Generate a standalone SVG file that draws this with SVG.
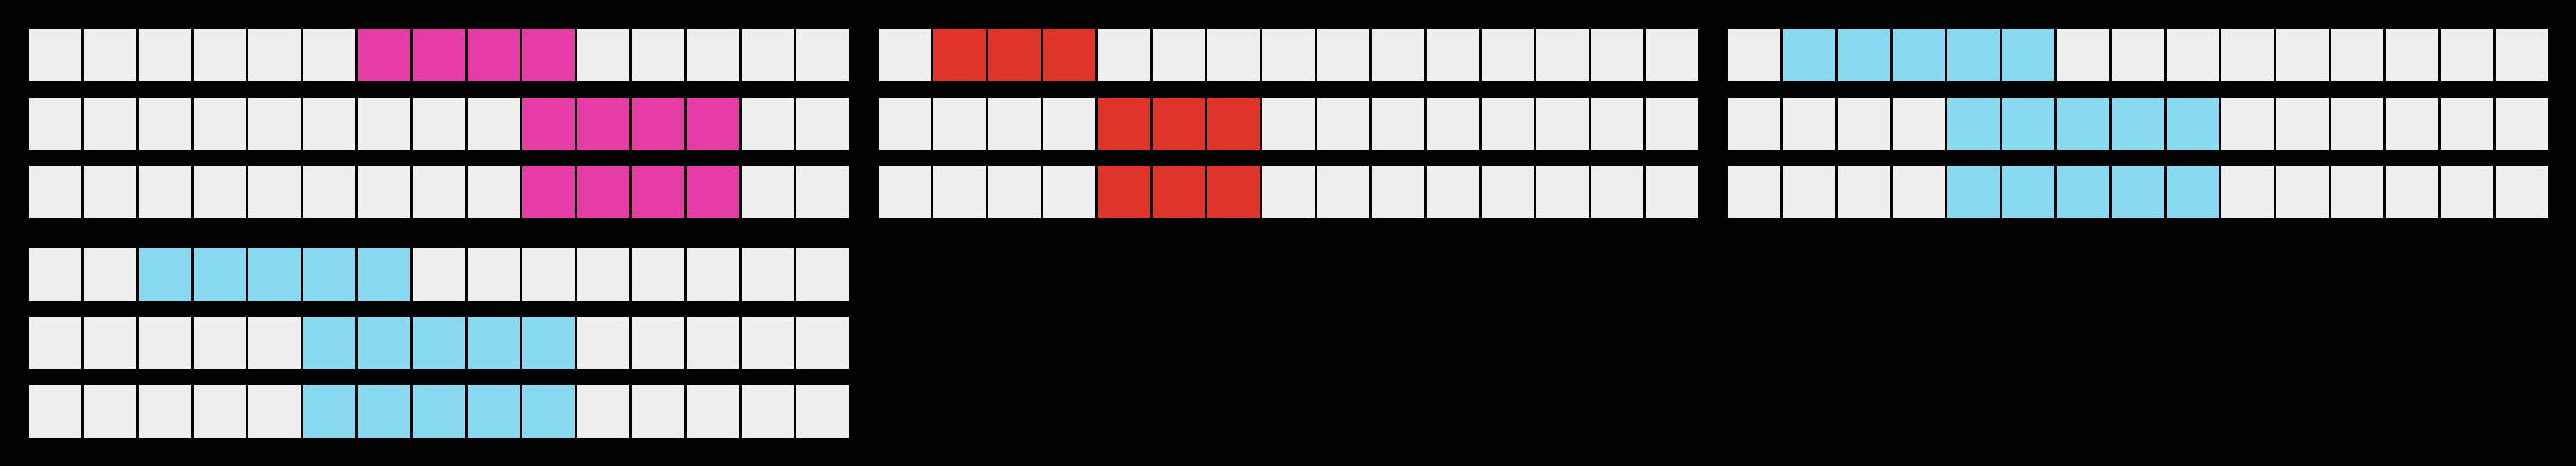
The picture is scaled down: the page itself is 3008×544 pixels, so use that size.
<svg xmlns="http://www.w3.org/2000/svg" width="3008" height="544" viewBox="0 0 3008 544">
<style>
rect.c{fill:#eeeeee}
rect.m{fill:#e53ca5}
rect.r{fill:#de3429}
rect.b{fill:#89d9f1}
</style>
<rect x="0" y="0" width="3008" height="544" fill="#020202"/>
<g id="grid1">
<g id="grid1-row1">
<rect class="c" x="34" y="34" width="61" height="61"/><rect class="c" x="98" y="34" width="61" height="61"/><rect class="c" x="162" y="34" width="61" height="61"/><rect class="c" x="226" y="34" width="61" height="61"/><rect class="c" x="290" y="34" width="61" height="61"/><rect class="c" x="354" y="34" width="61" height="61"/><rect class="m" x="418" y="34" width="61" height="61"/><rect class="m" x="482" y="34" width="61" height="61"/><rect class="m" x="546" y="34" width="61" height="61"/><rect class="m" x="610" y="34" width="61" height="61"/><rect class="c" x="674" y="34" width="61" height="61"/><rect class="c" x="738" y="34" width="61" height="61"/><rect class="c" x="802" y="34" width="61" height="61"/><rect class="c" x="866" y="34" width="61" height="61"/><rect class="c" x="930" y="34" width="61" height="61"/>
</g>
<g id="grid1-row2">
<rect class="c" x="34" y="114" width="61" height="61"/><rect class="c" x="98" y="114" width="61" height="61"/><rect class="c" x="162" y="114" width="61" height="61"/><rect class="c" x="226" y="114" width="61" height="61"/><rect class="c" x="290" y="114" width="61" height="61"/><rect class="c" x="354" y="114" width="61" height="61"/><rect class="c" x="418" y="114" width="61" height="61"/><rect class="c" x="482" y="114" width="61" height="61"/><rect class="c" x="546" y="114" width="61" height="61"/><rect class="m" x="610" y="114" width="61" height="61"/><rect class="m" x="674" y="114" width="61" height="61"/><rect class="m" x="738" y="114" width="61" height="61"/><rect class="m" x="802" y="114" width="61" height="61"/><rect class="c" x="866" y="114" width="61" height="61"/><rect class="c" x="930" y="114" width="61" height="61"/>
</g>
<g id="grid1-row3">
<rect class="c" x="34" y="194" width="61" height="61"/><rect class="c" x="98" y="194" width="61" height="61"/><rect class="c" x="162" y="194" width="61" height="61"/><rect class="c" x="226" y="194" width="61" height="61"/><rect class="c" x="290" y="194" width="61" height="61"/><rect class="c" x="354" y="194" width="61" height="61"/><rect class="c" x="418" y="194" width="61" height="61"/><rect class="c" x="482" y="194" width="61" height="61"/><rect class="c" x="546" y="194" width="61" height="61"/><rect class="m" x="610" y="194" width="61" height="61"/><rect class="m" x="674" y="194" width="61" height="61"/><rect class="m" x="738" y="194" width="61" height="61"/><rect class="m" x="802" y="194" width="61" height="61"/><rect class="c" x="866" y="194" width="61" height="61"/><rect class="c" x="930" y="194" width="61" height="61"/>
</g>
</g>
<g id="grid2">
<g id="grid2-row1">
<rect class="c" x="1026" y="34" width="61" height="61"/><rect class="r" x="1090" y="34" width="61" height="61"/><rect class="r" x="1154" y="34" width="61" height="61"/><rect class="r" x="1218" y="34" width="61" height="61"/><rect class="c" x="1282" y="34" width="61" height="61"/><rect class="c" x="1346" y="34" width="61" height="61"/><rect class="c" x="1410" y="34" width="61" height="61"/><rect class="c" x="1474" y="34" width="61" height="61"/><rect class="c" x="1538" y="34" width="61" height="61"/><rect class="c" x="1602" y="34" width="61" height="61"/><rect class="c" x="1666" y="34" width="61" height="61"/><rect class="c" x="1730" y="34" width="61" height="61"/><rect class="c" x="1794" y="34" width="61" height="61"/><rect class="c" x="1858" y="34" width="61" height="61"/><rect class="c" x="1922" y="34" width="61" height="61"/>
</g>
<g id="grid2-row2">
<rect class="c" x="1026" y="114" width="61" height="61"/><rect class="c" x="1090" y="114" width="61" height="61"/><rect class="c" x="1154" y="114" width="61" height="61"/><rect class="c" x="1218" y="114" width="61" height="61"/><rect class="r" x="1282" y="114" width="61" height="61"/><rect class="r" x="1346" y="114" width="61" height="61"/><rect class="r" x="1410" y="114" width="61" height="61"/><rect class="c" x="1474" y="114" width="61" height="61"/><rect class="c" x="1538" y="114" width="61" height="61"/><rect class="c" x="1602" y="114" width="61" height="61"/><rect class="c" x="1666" y="114" width="61" height="61"/><rect class="c" x="1730" y="114" width="61" height="61"/><rect class="c" x="1794" y="114" width="61" height="61"/><rect class="c" x="1858" y="114" width="61" height="61"/><rect class="c" x="1922" y="114" width="61" height="61"/>
</g>
<g id="grid2-row3">
<rect class="c" x="1026" y="194" width="61" height="61"/><rect class="c" x="1090" y="194" width="61" height="61"/><rect class="c" x="1154" y="194" width="61" height="61"/><rect class="c" x="1218" y="194" width="61" height="61"/><rect class="r" x="1282" y="194" width="61" height="61"/><rect class="r" x="1346" y="194" width="61" height="61"/><rect class="r" x="1410" y="194" width="61" height="61"/><rect class="c" x="1474" y="194" width="61" height="61"/><rect class="c" x="1538" y="194" width="61" height="61"/><rect class="c" x="1602" y="194" width="61" height="61"/><rect class="c" x="1666" y="194" width="61" height="61"/><rect class="c" x="1730" y="194" width="61" height="61"/><rect class="c" x="1794" y="194" width="61" height="61"/><rect class="c" x="1858" y="194" width="61" height="61"/><rect class="c" x="1922" y="194" width="61" height="61"/>
</g>
</g>
<g id="grid3">
<g id="grid3-row1">
<rect class="c" x="2018" y="34" width="61" height="61"/><rect class="b" x="2082" y="34" width="61" height="61"/><rect class="b" x="2146" y="34" width="61" height="61"/><rect class="b" x="2210" y="34" width="61" height="61"/><rect class="b" x="2274" y="34" width="61" height="61"/><rect class="b" x="2338" y="34" width="61" height="61"/><rect class="c" x="2402" y="34" width="61" height="61"/><rect class="c" x="2466" y="34" width="61" height="61"/><rect class="c" x="2530" y="34" width="61" height="61"/><rect class="c" x="2594" y="34" width="61" height="61"/><rect class="c" x="2658" y="34" width="61" height="61"/><rect class="c" x="2722" y="34" width="61" height="61"/><rect class="c" x="2786" y="34" width="61" height="61"/><rect class="c" x="2850" y="34" width="61" height="61"/><rect class="c" x="2914" y="34" width="61" height="61"/>
</g>
<g id="grid3-row2">
<rect class="c" x="2018" y="114" width="61" height="61"/><rect class="c" x="2082" y="114" width="61" height="61"/><rect class="c" x="2146" y="114" width="61" height="61"/><rect class="c" x="2210" y="114" width="61" height="61"/><rect class="b" x="2274" y="114" width="61" height="61"/><rect class="b" x="2338" y="114" width="61" height="61"/><rect class="b" x="2402" y="114" width="61" height="61"/><rect class="b" x="2466" y="114" width="61" height="61"/><rect class="b" x="2530" y="114" width="61" height="61"/><rect class="c" x="2594" y="114" width="61" height="61"/><rect class="c" x="2658" y="114" width="61" height="61"/><rect class="c" x="2722" y="114" width="61" height="61"/><rect class="c" x="2786" y="114" width="61" height="61"/><rect class="c" x="2850" y="114" width="61" height="61"/><rect class="c" x="2914" y="114" width="61" height="61"/>
</g>
<g id="grid3-row3">
<rect class="c" x="2018" y="194" width="61" height="61"/><rect class="c" x="2082" y="194" width="61" height="61"/><rect class="c" x="2146" y="194" width="61" height="61"/><rect class="c" x="2210" y="194" width="61" height="61"/><rect class="b" x="2274" y="194" width="61" height="61"/><rect class="b" x="2338" y="194" width="61" height="61"/><rect class="b" x="2402" y="194" width="61" height="61"/><rect class="b" x="2466" y="194" width="61" height="61"/><rect class="b" x="2530" y="194" width="61" height="61"/><rect class="c" x="2594" y="194" width="61" height="61"/><rect class="c" x="2658" y="194" width="61" height="61"/><rect class="c" x="2722" y="194" width="61" height="61"/><rect class="c" x="2786" y="194" width="61" height="61"/><rect class="c" x="2850" y="194" width="61" height="61"/><rect class="c" x="2914" y="194" width="61" height="61"/>
</g>
</g>
<g id="grid4">
<g id="grid4-row1">
<rect class="c" x="34" y="290" width="61" height="61"/><rect class="c" x="98" y="290" width="61" height="61"/><rect class="b" x="162" y="290" width="61" height="61"/><rect class="b" x="226" y="290" width="61" height="61"/><rect class="b" x="290" y="290" width="61" height="61"/><rect class="b" x="354" y="290" width="61" height="61"/><rect class="b" x="418" y="290" width="61" height="61"/><rect class="c" x="482" y="290" width="61" height="61"/><rect class="c" x="546" y="290" width="61" height="61"/><rect class="c" x="610" y="290" width="61" height="61"/><rect class="c" x="674" y="290" width="61" height="61"/><rect class="c" x="738" y="290" width="61" height="61"/><rect class="c" x="802" y="290" width="61" height="61"/><rect class="c" x="866" y="290" width="61" height="61"/><rect class="c" x="930" y="290" width="61" height="61"/>
</g>
<g id="grid4-row2">
<rect class="c" x="34" y="370" width="61" height="61"/><rect class="c" x="98" y="370" width="61" height="61"/><rect class="c" x="162" y="370" width="61" height="61"/><rect class="c" x="226" y="370" width="61" height="61"/><rect class="c" x="290" y="370" width="61" height="61"/><rect class="b" x="354" y="370" width="61" height="61"/><rect class="b" x="418" y="370" width="61" height="61"/><rect class="b" x="482" y="370" width="61" height="61"/><rect class="b" x="546" y="370" width="61" height="61"/><rect class="b" x="610" y="370" width="61" height="61"/><rect class="c" x="674" y="370" width="61" height="61"/><rect class="c" x="738" y="370" width="61" height="61"/><rect class="c" x="802" y="370" width="61" height="61"/><rect class="c" x="866" y="370" width="61" height="61"/><rect class="c" x="930" y="370" width="61" height="61"/>
</g>
<g id="grid4-row3">
<rect class="c" x="34" y="450" width="61" height="61"/><rect class="c" x="98" y="450" width="61" height="61"/><rect class="c" x="162" y="450" width="61" height="61"/><rect class="c" x="226" y="450" width="61" height="61"/><rect class="c" x="290" y="450" width="61" height="61"/><rect class="b" x="354" y="450" width="61" height="61"/><rect class="b" x="418" y="450" width="61" height="61"/><rect class="b" x="482" y="450" width="61" height="61"/><rect class="b" x="546" y="450" width="61" height="61"/><rect class="b" x="610" y="450" width="61" height="61"/><rect class="c" x="674" y="450" width="61" height="61"/><rect class="c" x="738" y="450" width="61" height="61"/><rect class="c" x="802" y="450" width="61" height="61"/><rect class="c" x="866" y="450" width="61" height="61"/><rect class="c" x="930" y="450" width="61" height="61"/>
</g>
</g>
<g id="connectors"/>
</svg>
